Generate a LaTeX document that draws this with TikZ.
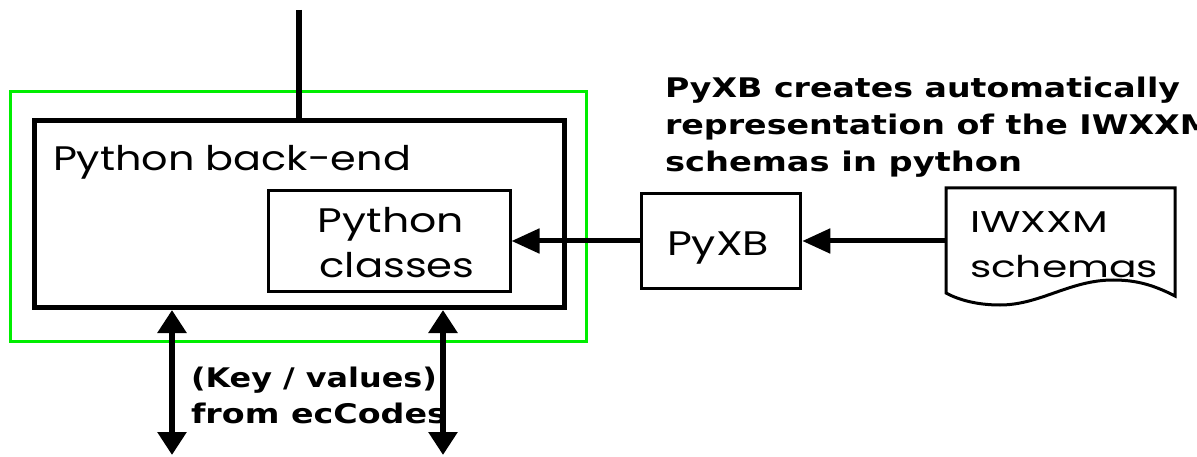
\documentclass[tikz,border=0pt]{standalone}
\usepackage{fontspec}
\usepackage{graphicx}
\setmainfont{Poppins}
\newfontfamily\pixfont{DejaVu Sans}
\usetikzlibrary{arrows.meta}
\definecolor{brightgreen}{RGB}{0,238,0}
\tikzset{
  box/.style={draw=black},
  txt/.style={anchor=base west, inner sep=0pt, outer sep=0pt},
  harrow/.style={line width=5pt, -{Triangle[length=28pt,width=24pt]}},
  varrow/.style={line width=6pt, {Triangle[length=23pt,width=28pt]}-{Triangle[length=23pt,width=28pt]}},
}
\newcommand{\fitw}[2]{\resizebox{#1}{\height}{#2}}
\newcommand{\boxtxt}{\fontsize{34}{40}\selectfont}
\newcommand{\pixtxt}{\pixfont\bfseries\fontsize{27}{32}\selectfont}
\begin{document}
\begin{tikzpicture}[x=1pt,y=-1pt]
\useasboundingbox (0,0) rectangle (1197,457);
% green frame
\draw[brightgreen, line width=3pt] (10,92) rectangle (586,341);
% back-end box
\draw[box, line width=5pt] (34,121) rectangle (564,307);
\coordinate (betop) at (299,121);
\coordinate (topend) at (299,10);
\draw[line width=6pt] (topend) -- (betop);
\node[txt] (betxt) at (53,171) {\fitw{358pt}{\boxtxt Python back-end}};
% python classes
\node[box, line width=3pt, minimum width=242pt, minimum height=101pt, inner sep=0pt] (cls) at (389,241) {};
\node[txt, anchor=base] (cl1) at (391,233) {\fitw{146pt}{\boxtxt Python}};
\node[txt, anchor=base] (cl2) at (397,277) {\fitw{155pt}{\boxtxt classes}};
% PyXB
\node[box, line width=3.5pt, minimum width=159pt, minimum height=95pt, inner sep=0pt] (pyxb) at (721,241) {};
\node[txt, anchor=base] (pyxbt) at (718,255) {\fitw{102pt}{\boxtxt PyXB}};
% IWXXM document
\draw[box, line width=3pt] (946,188) -- (1175,188) -- (1175,296)
  .. controls (1150,283) and (1132,280) .. (1113,280)
  .. controls (1070,280) and (1040,305) .. (1000,305)
  .. controls (975,305) and (957,299) .. (946,293) -- cycle;
\coordinate (docw) at (946,241);
\node[txt] (iw1) at (970,233) {\fitw{138pt}{\fontsize{30}{36}\selectfont IWXXM}};
\node[txt] (iw2) at (970,277) {\fitw{188pt}{\fontsize{30}{36}\selectfont schemas}};
% arrows
\draw[harrow] (docw) -- (pyxb.east);
\draw[harrow] (pyxb.west) -- (cls.east);
\coordinate (la) at (172,310);
\coordinate (lb) at (172,455);
\coordinate (ra) at (443,310);
\coordinate (rb) at (443,455);
\draw[varrow] (la) -- (lb);
\draw[varrow] (ra) -- (rb);
% annotation texts
\node[txt] (n1) at (665,98) {\fitw{515pt}{\pixtxt PyXB creates automatically}};
\node[txt] (n2) at (665,135) {\fitw{548pt}{\pixtxt representation of the IWXXM}};
\node[txt] (n3) at (665,172) {\fitw{357pt}{\pixtxt schemas in python}};
\node[txt] (k1) at (191,387) {\fitw{246pt}{\pixtxt (Key / values)}};
\node[txt] (k2) at (191,423) {\fitw{256pt}{\pixtxt from ecCodes}};
\end{tikzpicture}
\end{document}
